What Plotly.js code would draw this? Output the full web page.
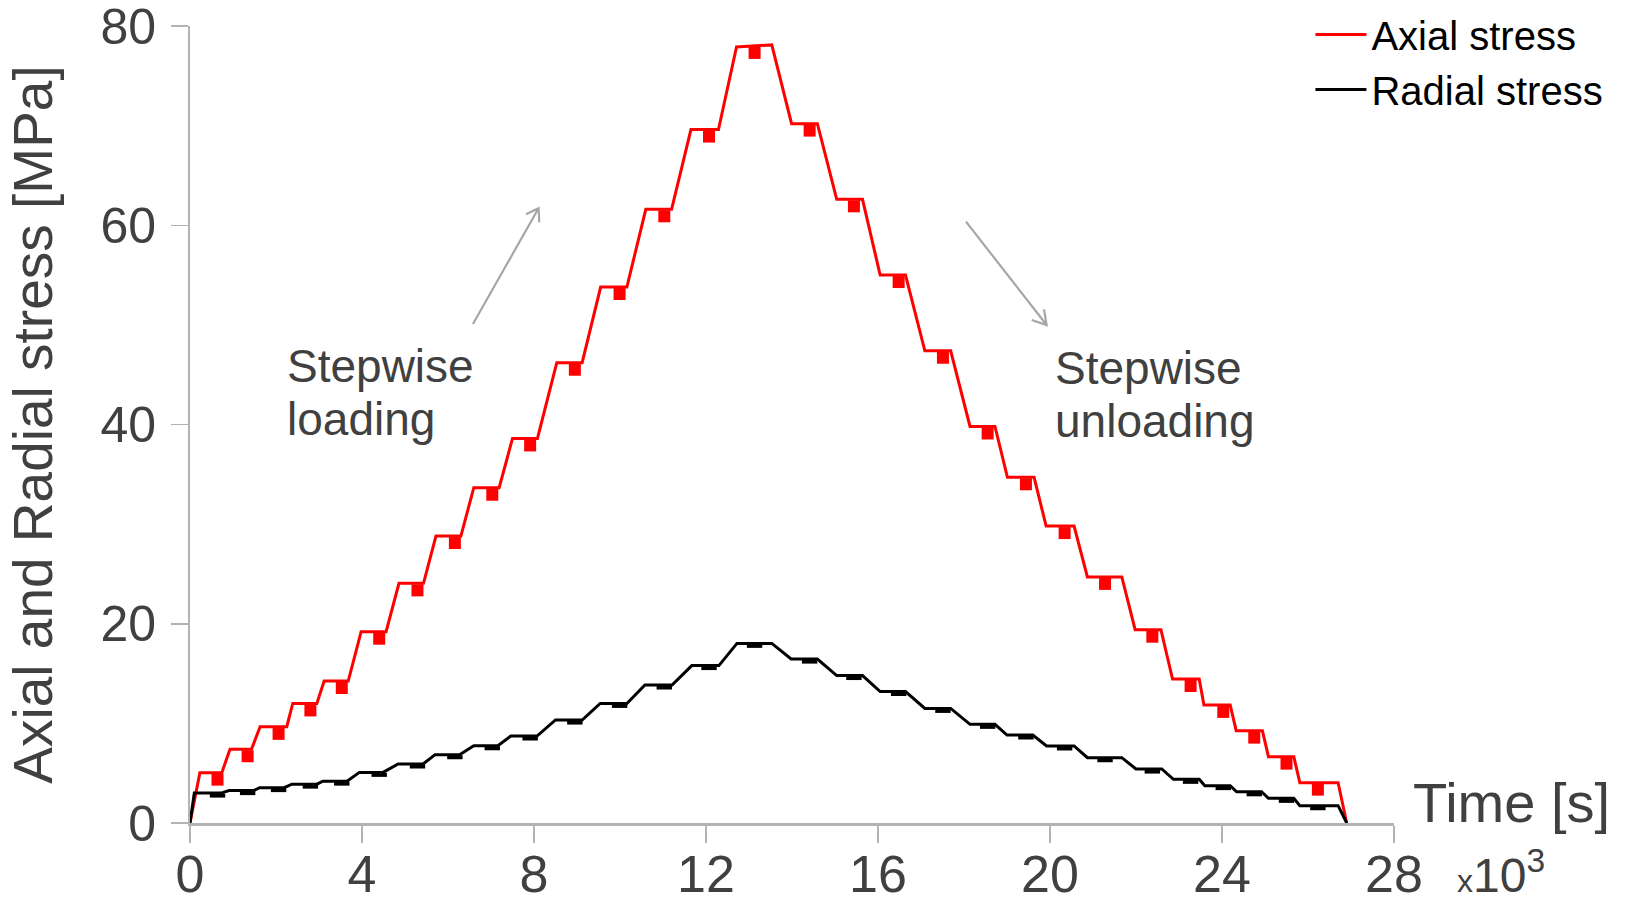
<!DOCTYPE html>
<html>
<head>
<meta charset="utf-8">
<script src="https://cdn.plot.ly/plotly-3.0.1.min.js"></script>
<style>
  html, body { margin: 0; padding: 0; background: #ffffff; }
  #chart { width: 1629px; height: 905px; }
</style>
</head>
<body>
<div id="chart"></div>
<script>
// ---- Data (time in thousands of seconds, stress in MPa) ----
const axialTime = [0, 0.23, 0.74, 0.93, 1.43, 1.63, 2.25, 2.39, 2.95, 3.12, 3.68, 3.98, 4.56, 4.86, 5.43, 5.72, 6.30, 6.60, 7.19, 7.50, 8.08, 8.53, 9.12, 9.55, 10.16, 10.60, 11.20, 11.65, 12.29, 12.71, 13.53, 13.99, 14.59, 15.04, 15.64, 16.05, 16.64, 17.09, 17.69, 18.14, 18.72, 19.01, 19.63, 19.91, 20.56, 20.87, 21.67, 21.98, 22.58, 22.85, 23.47, 23.58, 24.19, 24.33, 24.94, 25.08, 25.67, 25.81, 26.70, 26.90];
const axialStress = [0, 5.05, 5.05, 7.4, 7.4, 9.67, 9.67, 12.0, 12.0, 14.25, 14.25, 19.2, 19.2, 24.06, 24.06, 28.8, 28.8, 33.66, 33.66, 38.6, 38.6, 46.2, 46.2, 53.8, 53.8, 61.6, 61.6, 69.6, 69.6, 77.9, 78.1, 70.2, 70.2, 62.6, 62.6, 55.0, 55.0, 47.4, 47.4, 39.8, 39.8, 34.7, 34.7, 29.8, 29.8, 24.7, 24.7, 19.4, 19.4, 14.45, 14.45, 11.85, 11.85, 9.27, 9.27, 6.66, 6.66, 4.05, 4.05, 0];

const radialTime = [0, 0.10, 0.72, 0.91, 1.48, 1.62, 2.19, 2.37, 2.95, 3.09, 3.65, 3.94, 4.49, 4.84, 5.42, 5.70, 6.27, 6.60, 7.16, 7.46, 8.07, 8.50, 9.12, 9.54, 10.16, 10.58, 11.21, 11.67, 12.30, 12.72, 13.53, 13.98, 14.59, 15.04, 15.64, 16.05, 16.64, 17.09, 17.69, 18.14, 18.72, 19.00, 19.60, 19.92, 20.56, 20.87, 21.67, 22.00, 22.60, 22.87, 23.47, 23.60, 24.19, 24.34, 24.92, 25.08, 25.67, 25.81, 26.70, 26.90];
const radialStress = [0, 3.0, 3.0, 3.25, 3.25, 3.55, 3.55, 3.9, 3.9, 4.2, 4.2, 5.08, 5.08, 5.92, 5.92, 6.86, 6.86, 7.76, 7.76, 8.73, 8.73, 10.34, 10.34, 12.0, 12.0, 13.85, 13.85, 15.8, 15.8, 18.03, 18.03, 16.46, 16.46, 14.8, 14.8, 13.2, 13.2, 11.5, 11.5, 9.9, 9.9, 8.83, 8.83, 7.73, 7.73, 6.56, 6.56, 5.42, 5.42, 4.39, 4.39, 3.75, 3.75, 3.14, 3.14, 2.48, 2.48, 1.74, 1.74, 0];

// short dips recorded near the end of each hold step
const dipTime = [0.64, 1.34, 2.06, 2.80, 3.53, 4.40, 5.29, 6.16, 7.03, 7.91, 8.95, 9.99, 11.03, 12.07, 13.13, 14.41, 15.44, 16.48, 17.51, 18.55, 19.44, 20.34, 21.28, 22.38, 23.27, 24.03, 24.75, 25.50, 26.23];
const axialDip = [4.35, 6.7, 8.95, 11.3, 13.55, 18.5, 23.35, 28.1, 32.95, 37.9, 45.5, 53.1, 60.9, 68.9, 77.3, 69.5, 61.9, 54.3, 46.7, 39.1, 34.0, 29.1, 24.0, 18.7, 13.75, 11.15, 8.57, 5.96, 3.35];
const radialDip = [2.75, 3.0, 3.3, 3.65, 3.95, 4.83, 5.67, 6.6, 7.5, 8.48, 10.08, 11.75, 13.6, 15.55, 17.78, 16.2, 14.55, 12.95, 11.25, 9.65, 8.58, 7.48, 6.3, 5.16, 4.13, 3.5, 2.88, 2.22, 1.48];

const xTicks = [0, 4, 8, 12, 16, 20, 24, 28];
const yTicks = [0, 20, 40, 60, 80];

const FONT = '"Liberation Sans", Arial, Helvetica, sans-serif';
const GREY_TEXT = '#404040';
const AXIS_GREY = '#b3b3b3';
const ARROW_GREY = '#a6a6a6';

const traces = [
  {
    x: axialTime, y: axialStress, mode: 'lines', name: 'Axial stress',
    line: { color: '#ff0000', width: 3 }, hoverinfo: 'x+y'
  },
  {
    x: radialTime, y: radialStress, mode: 'lines', name: 'Radial stress',
    line: { color: '#000000', width: 3 }, hoverinfo: 'x+y'
  },
  {
    x: dipTime, y: axialDip, mode: 'markers', showlegend: false, name: 'Axial stress',
    marker: { symbol: 'square', size: 12, color: '#ff0000', line: { width: 0 } }
  },
  {
    x: dipTime, y: radialDip, mode: 'markers', showlegend: false, name: 'Radial stress',
    marker: { symbol: 'line-ew', size: 11, color: '#000000', line: { width: 4, color: '#000000' } }
  }
];

// arrow shapes (paper coordinates): shaft + open V head
function arrowPath(tail, head, wingA, wingB) {
  return 'M' + tail[0] + ',' + tail[1] + ' L' + head[0] + ',' + head[1] +
         ' M' + wingA[0] + ',' + wingA[1] + ' L' + head[0] + ',' + head[1] +
         ' L' + wingB[0] + ',' + wingB[1];
}

const layout = {
  width: 1629, height: 905,
  margin: { l: 190, r: 235, t: 26, b: 82, pad: 0, autoexpand: false },
  paper_bgcolor: '#ffffff', plot_bgcolor: '#ffffff',
  font: { family: FONT, color: GREY_TEXT },
  showlegend: true,
  legend: {
    x: 0.9306, y: 1.03, xanchor: 'left', yanchor: 'top',
    bgcolor: 'rgba(0,0,0,0)', borderwidth: 0,
    font: { family: FONT, size: 40, color: '#000000' },
    itemwidth: 51
  },
  xaxis: {
    range: [0, 28], tickmode: 'array', tickvals: xTicks, ticktext: xTicks.map(String),
    showgrid: false, zeroline: false, showline: true, linecolor: AXIS_GREY, linewidth: 2.5,
    ticks: 'outside', ticklen: 17, tickwidth: 1.5, tickcolor: AXIS_GREY,
    tickfont: { family: FONT, size: 52, color: GREY_TEXT },
    ticklabelstandoff: -13, ticklabeloverflow: 'allow',
    automargin: false,
    fixedrange: true
  },
  yaxis: {
    range: [0, 80], tickmode: 'array', tickvals: yTicks, ticktext: yTicks.map(String),
    showgrid: false, zeroline: false, showline: true, linecolor: AXIS_GREY, linewidth: 2,
    ticks: 'outside', ticklen: 17, tickwidth: 1.5, tickcolor: AXIS_GREY,
    tickfont: { family: FONT, size: 50, color: GREY_TEXT },
    ticklabelstandoff: 5, ticklabeloverflow: 'allow',
    title: { text: 'Axial and Radial stress [MPa]', font: { family: FONT, size: 55, color: GREY_TEXT }, standoff: 30 },
    automargin: false,
    fixedrange: true
  },
  shapes: [
    { type: 'path', xref: 'paper', yref: 'paper',
      path: arrowPath([0.2350, 0.6261], [0.2895, 0.7713], [0.2791, 0.7637], [0.2901, 0.7536]),
      line: { color: ARROW_GREY, width: 2.2 } },
    { type: 'path', xref: 'paper', yref: 'paper',
      path: arrowPath([0.6445, 0.7545], [0.7115, 0.6248], [0.6991, 0.6311], [0.7093, 0.6445]),
      line: { color: ARROW_GREY, width: 2.2 } }
  ],
  annotations: [
    { xref: 'paper', yref: 'paper', x: 1.0141, y: 0.026, xanchor: 'left', yanchor: 'middle',
      text: 'Time [s]', showarrow: false, font: { family: FONT, size: 56, color: GREY_TEXT } },
    { xref: 'paper', yref: 'paper', x: 1.0507, y: -0.061, xanchor: 'left', yanchor: 'middle',
      text: '<span style="font-size:32px">x</span>10<sup>3</sup>', showarrow: false,
      font: { family: FONT, size: 48, color: GREY_TEXT } },
    { xref: 'paper', yref: 'paper', x: 0.079, y: 0.6085, xanchor: 'left', yanchor: 'top', align: 'left',
      text: 'Stepwise', showarrow: false, font: { family: FONT, size: 46, color: GREY_TEXT } },
    { xref: 'paper', yref: 'paper', x: 0.079, y: 0.542, xanchor: 'left', yanchor: 'top', align: 'left',
      text: 'loading', showarrow: false, font: { family: FONT, size: 46, color: GREY_TEXT } },
    { xref: 'paper', yref: 'paper', x: 0.7168, y: 0.606, xanchor: 'left', yanchor: 'top', align: 'left',
      text: 'Stepwise', showarrow: false, font: { family: FONT, size: 46, color: GREY_TEXT } },
    { xref: 'paper', yref: 'paper', x: 0.7168, y: 0.5395, xanchor: 'left', yanchor: 'top', align: 'left',
      text: 'unloading', showarrow: false, font: { family: FONT, size: 46, color: GREY_TEXT } }
  ]
};

Plotly.newPlot('chart', traces, layout, { displayModeBar: false, staticPlot: true }).then(function (gd) {
  // drop Plotly's empty placeholder title texts
  gd.querySelectorAll('text').forEach(function (t) {
    if (!t.textContent.trim()) t.remove();
  });
});
</script>
</body>
</html>
